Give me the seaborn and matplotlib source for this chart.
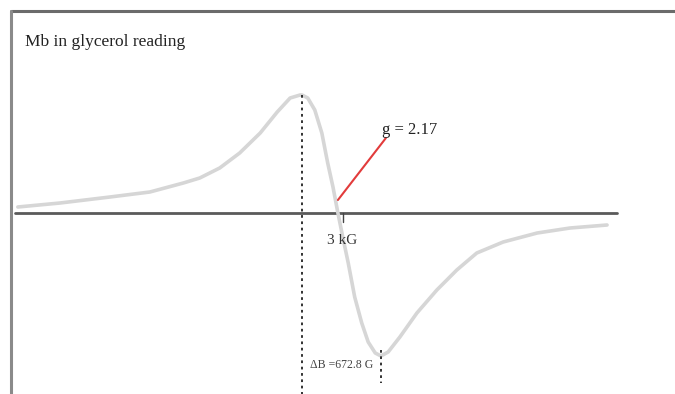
import matplotlib
matplotlib.use("Agg")
import matplotlib.pyplot as plt
import seaborn as sns
import pandas as pd

# EPR derivative spectrum (field in G, signal in arbitrary units)
field = [230, 590, 1015, 1355, 1640, 1780, 1950, 2120, 2295, 2440, 2550, 2635,
         2651, 2700, 2760, 2820, 2870, 2915, 2957, 3000, 3045, 3100, 3160, 3215,
         3275, 3324, 3385, 3485, 3630, 3800, 3970, 4140, 4365, 4655, 4935, 5250]
signal = [6, 10, 16, 21, 30, 35, 45, 60, 80, 101, 115, 118,
          118, 115, 103, 80, 50, 26, 0, -25, -50, -84, -110, -129,
          -140, -143, -139, -124, -100, -77, -57, -40, -29, -20, -15, -12]

title = "Mb in glycerol reading"
g_label = "g = 2.17"
tick_label = "3 kG"
width_label = "\u0394B =672.8 G"
peak_field, trough_field = 2651, 3324

sns.set_style("white")
plt.rcParams['font.family'] = ['Liberation Serif', 'DejaVu Serif']

df = pd.DataFrame({"field": field, "signal": signal})

fig = plt.figure(figsize=(6.75, 3.94), dpi=100)
ax = fig.add_axes([0, 0, 1, 1])
ax.set_xlim(78, 5829)
ax.set_ylim(-181, 213)
ax.axis("off")

# frame of the scanned figure (top and left edges only)
ax.plot([11 / 675, 1], [1 - 11 / 394] * 2, transform=ax.transAxes, color="#6b6b6b", lw=2.2)
ax.plot([11 / 675] * 2, [0, 1 - 11 / 394], transform=ax.transAxes, color="#8a8a8a", lw=2.2)

# baseline
ax.plot([205, 5335], [0, 0], color="#5a5a5a", lw=2)

# spectrum
sns.lineplot(data=df, x="field", y="signal", sort=False, estimator=None,
             color="#d6d6d6", lw=2.6, ax=ax)

# 3 kG tick
ax.plot([3000, 3000], [0, -9], color="#444444", lw=1)
ax.text(2990, -27, tick_label, ha="center", va="center", fontsize=11, color="#333333")

# peak-to-peak markers
ax.plot([peak_field, peak_field], [118, -181], color="#222222", lw=1.3, ls=(0, (1.5, 2)))
ax.plot([trough_field, trough_field], [-137, -170], color="#222222", lw=1.3, ls=(0, (1.5, 2)))
ax.text((peak_field + trough_field) / 2, -152, width_label, ha="center", va="center",
        fontsize=8.5, color="#444444")

# g-value pointer
ax.plot([2957, 3366], [13, 75], color="#e23b3b", lw=1.5)
ax.text(3330, 83, g_label, ha="left", va="center", fontsize=12, color="#222222")

ax.text(25 / 675, 1 - 42 / 394, title, transform=ax.transAxes, ha="left", va="center",
        fontsize=12.5, color="#222222")

fig.savefig("out.png", dpi=100)
